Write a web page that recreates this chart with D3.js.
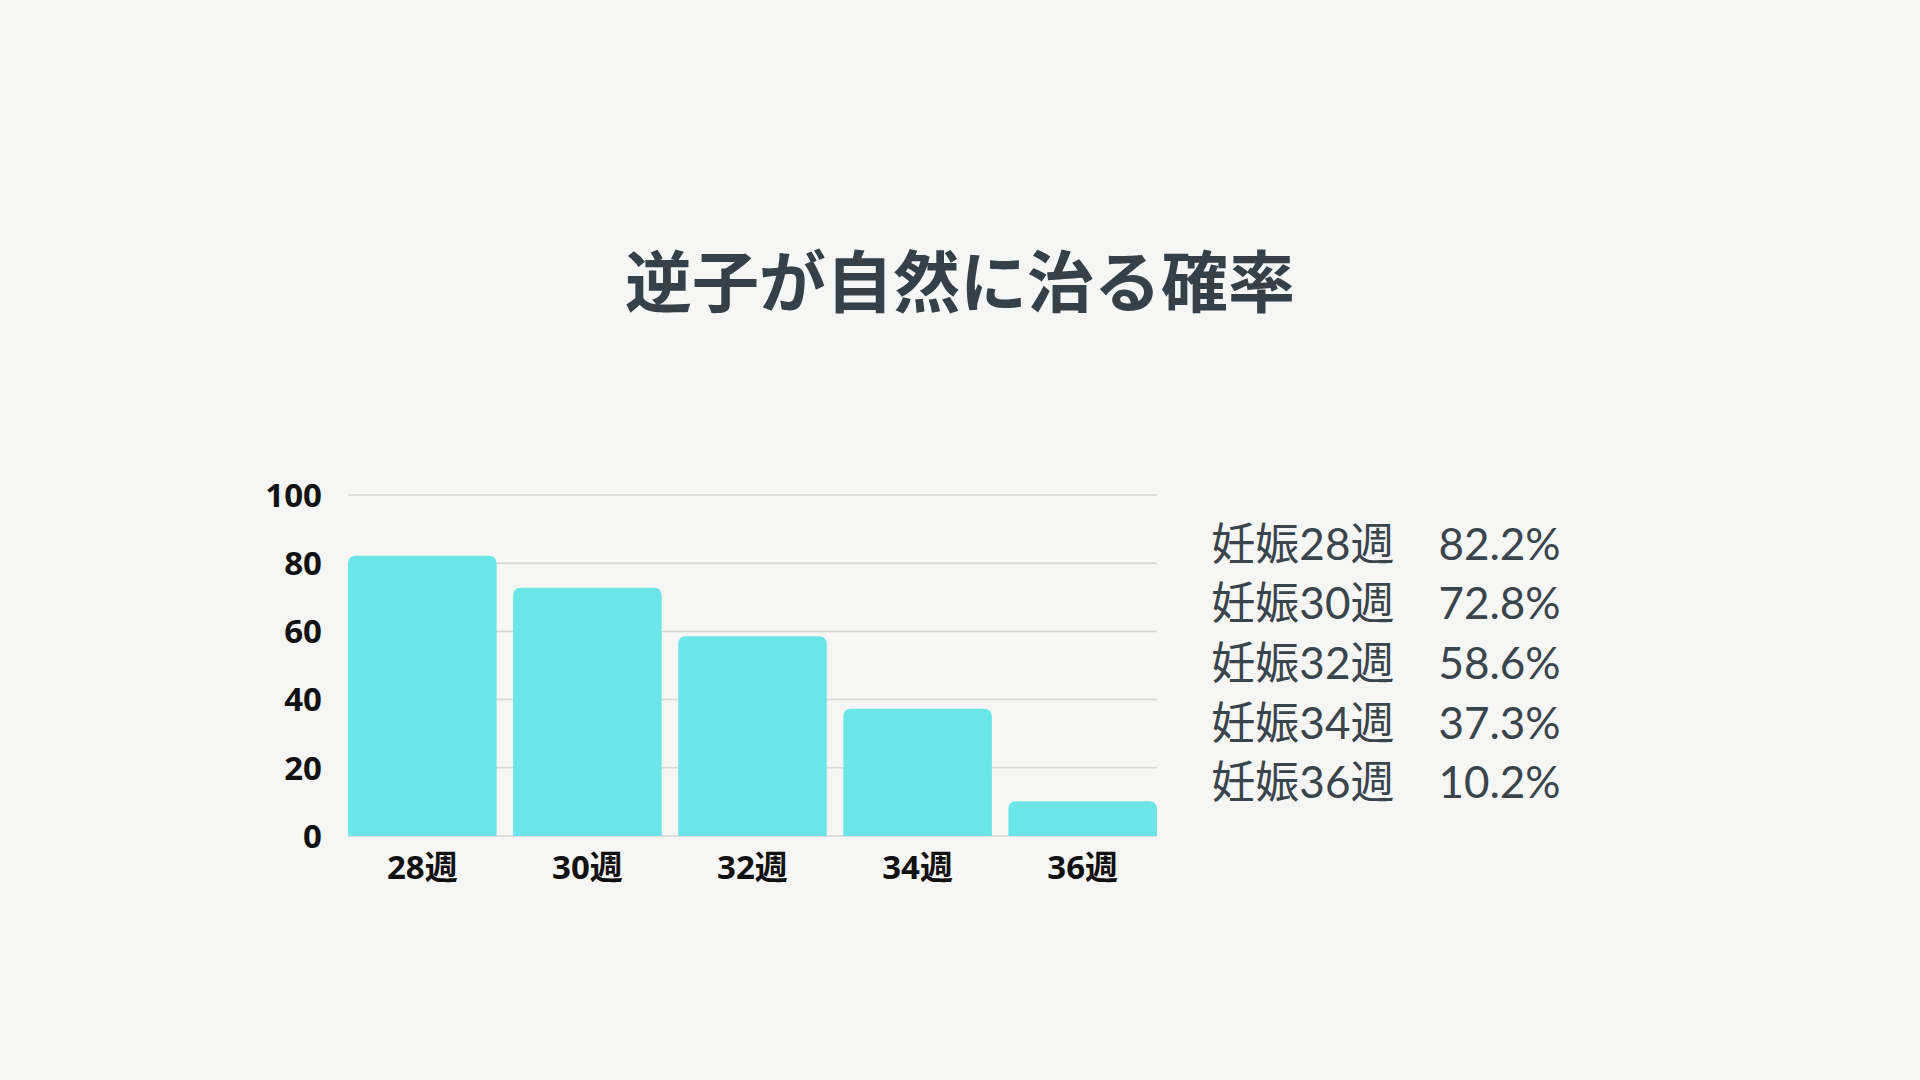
<!DOCTYPE html>
<html>
<head>
<meta charset="utf-8">
<script src="https://cdn.jsdelivr.net/npm/d3@7"></script>
<style>
  html, body { margin: 0; padding: 0; background: #f6f6f4; }
  svg { display: block; }
</style>
</head>
<body>
<script>
// chart data
const title = '逆子が自然に治る確率'
const weeks = ['28週', '30週', '32週', '34週', '36週']
const rates = [82.2, 72.8, 58.6, 37.3, 10.2]
const yTicks = [0, 20, 40, 60, 80, 100]
const listLabels = ['妊娠28週', '妊娠30週', '妊娠32週', '妊娠34週', '妊娠36週']
const listValues = ['82.2%', '72.8%', '58.6%', '37.3%', '10.2%']

const width = 1920
const height = 1080
const plot = { left: 348, right: 1157, top: 495, bottom: 836 }

const svg = d3.select('body')
    .append('svg')
    .attr('width', width)
    .attr('height', height)
    .attr('viewBox', `0 0 ${width} ${height}`)

svg.append('rect').attr('width', width).attr('height', height).attr('fill', '#f6f6f4')

svg.append('text')
    .attr('x', 960)
    .attr('y', 307)
    .attr('text-anchor', 'middle')
    .attr('font-family', '"Noto Sans CJK JP", sans-serif')
    .attr('font-weight', 700)
    .attr('font-size', 67)
    .attr('fill', '#364048')
    .text(title)

const x = d3.scaleBand().domain(weeks).range([plot.left, plot.right]).paddingInner(0.1).paddingOuter(0)
const y = d3.scaleLinear().domain([0, 100]).range([plot.bottom, plot.top])

// grid lines
svg.append('g')
    .selectAll('line')
    .data(yTicks)
    .join('line')
    .attr('x1', plot.left)
    .attr('x2', plot.right)
    .attr('y1', d => y(d))
    .attr('y2', d => y(d))
    .attr('stroke', '#d6d6d4')
    .attr('stroke-width', 1.5)

// y axis labels
svg.append('g')
    .selectAll('text')
    .data(yTicks)
    .join('text')
    .attr('x', 322)
    .attr('y', d => y(d))
    .attr('dy', '0.36em')
    .attr('text-anchor', 'end')
    .attr('font-family', '"Noto Sans", sans-serif')
    .attr('font-weight', 700)
    .attr('font-size', 33)
    .attr('fill', '#111')
    .text(d => d)

// bars with rounded tops
function topRounded(x0, y0, w, h, r) {
    r = Math.min(r, h, w / 2)
    return `M${x0},${y0 + h}V${y0 + r}Q${x0},${y0} ${x0 + r},${y0}H${x0 + w - r}Q${x0 + w},${y0} ${x0 + w},${y0 + r}V${y0 + h}Z`
}

svg.append('g')
    .selectAll('path')
    .data(rates)
    .join('path')
    .attr('d', (d, i) => topRounded(x(weeks[i]), y(d), x.bandwidth(), y(0) - y(d), 8))
    .attr('fill', '#6ce5e8')

// x axis labels
svg.append('g')
    .selectAll('text')
    .data(weeks)
    .join('text')
    .attr('x', d => x(d) + x.bandwidth() / 2)
    .attr('y', 867)
    .attr('dy', '0.36em')
    .attr('text-anchor', 'middle')
    .attr('font-family', '"Noto Sans", "Noto Sans CJK JP", sans-serif')
    .attr('font-weight', 700)
    .attr('font-size', 33)
    .attr('fill', '#111')
    .text(d => d)

// value list on the right
svg.append('g')
    .selectAll('text')
    .data(listLabels)
    .join('text')
    .attr('x', 1386)
    .attr('y', (d, i) => 544 + i * 59.6)
    .attr('dy', '0.36em')
    .attr('text-anchor', 'middle')
    .attr('font-family', 'Lato, "Noto Sans CJK JP", sans-serif')
    .attr('font-size', 44)
    .attr('fill', '#3a444c')
    .text((d, i) => `${d}　${listValues[i]}`)
</script>
</body>
</html>
